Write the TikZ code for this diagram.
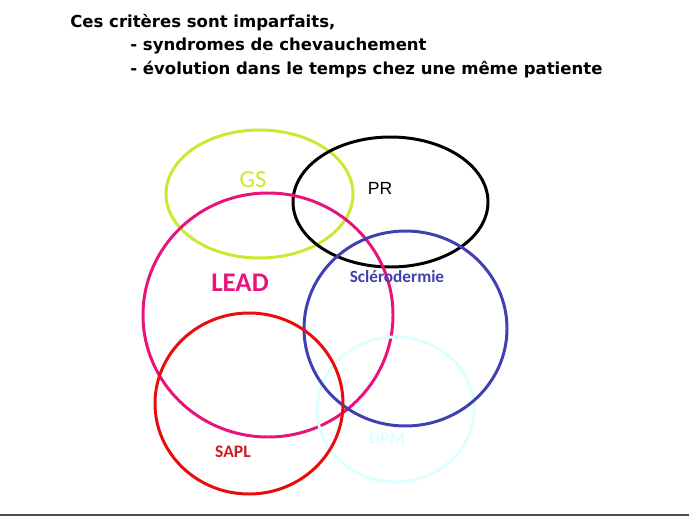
\documentclass[tikz,border=0pt]{standalone}
\usepackage{fontspec}
\setmainfont{Liberation Sans}
\newfontfamily\titlefont{DejaVu Sans}
\newfontfamily\labelfont{Carlito}
\usepackage{xcolor}
\usetikzlibrary{positioning}

\definecolor{gscol}{RGB}{204,232,48}
\definecolor{leadcol}{RGB}{232,20,122}
\definecolor{sclcol}{RGB}{64,64,178}
\definecolor{saplcol}{RGB}{232,12,12}
\definecolor{sapltxt}{RGB}{204,30,30}
\definecolor{dpmcol}{RGB}{222,255,255}

\begin{document}
\begin{tikzpicture}[
  x=0.02cm, y=-0.02cm,
  ring/.style={line width=1.7pt},
  title/.style={anchor=base west, inner sep=0pt, font=\titlefont\bfseries\fontsize{9.4}{11}\selectfont},
  lab/.style={inner sep=0pt, font=\labelfont\bfseries\fontsize{10}{12}\selectfont}
]
\useasboundingbox (0,0) rectangle (689,517);

% title
\node[title] (t1) at (70,28) {Ces critères sont imparfaits,};
\node[title] (t2) at (130,51) {- syndromes de chevauchement};
\node[title] (t3) at (130,74) {- évolution dans le temps chez une même patiente};

% sets
\draw[ring, gscol] (259.5,194) ellipse [x radius=93.5, y radius=64];
\draw[ring, black] (390.5,202) ellipse [x radius=97.5, y radius=65];
\draw[ring, leadcol] (268,315) ellipse [x radius=125, y radius=122];
\draw[ring, dpmcol] (395.5,409.5) ellipse [x radius=78.5, y radius=72.5];
\draw[ring, sclcol] (405.5,328.5) ellipse [x radius=101.5, y radius=97.5];
\draw[ring, saplcol] (249,403.5) ellipse [x radius=94, y radius=90.5];

% labels
\node[lab, text=gscol, font=\labelfont\fontsize{14}{16}\selectfont] (gs) at (253,180) {GS};
\node[text=black, inner sep=0pt, font=\fontsize{10}{12}\selectfont] (pr) at (380,188) {PR};
\node[lab, text=leadcol, font=\labelfont\bfseries\fontsize{15.3}{18}\selectfont] (lead) at (240,283) {LEAD};
\node[lab, text=sclcol, font=\labelfont\bfseries\fontsize{9.8}{12}\selectfont] (scl) at (397,277) {Sclérodermie};
\node[lab, text=sapltxt] (sapl) at (233,452) {SAPL};
\node[lab, text=dpmcol] (dpm) at (387,439) {DPM};

% bottom rule
\draw[line width=1.2pt, black!70] (0,515) -- (689,515);
\end{tikzpicture}
\end{document}
